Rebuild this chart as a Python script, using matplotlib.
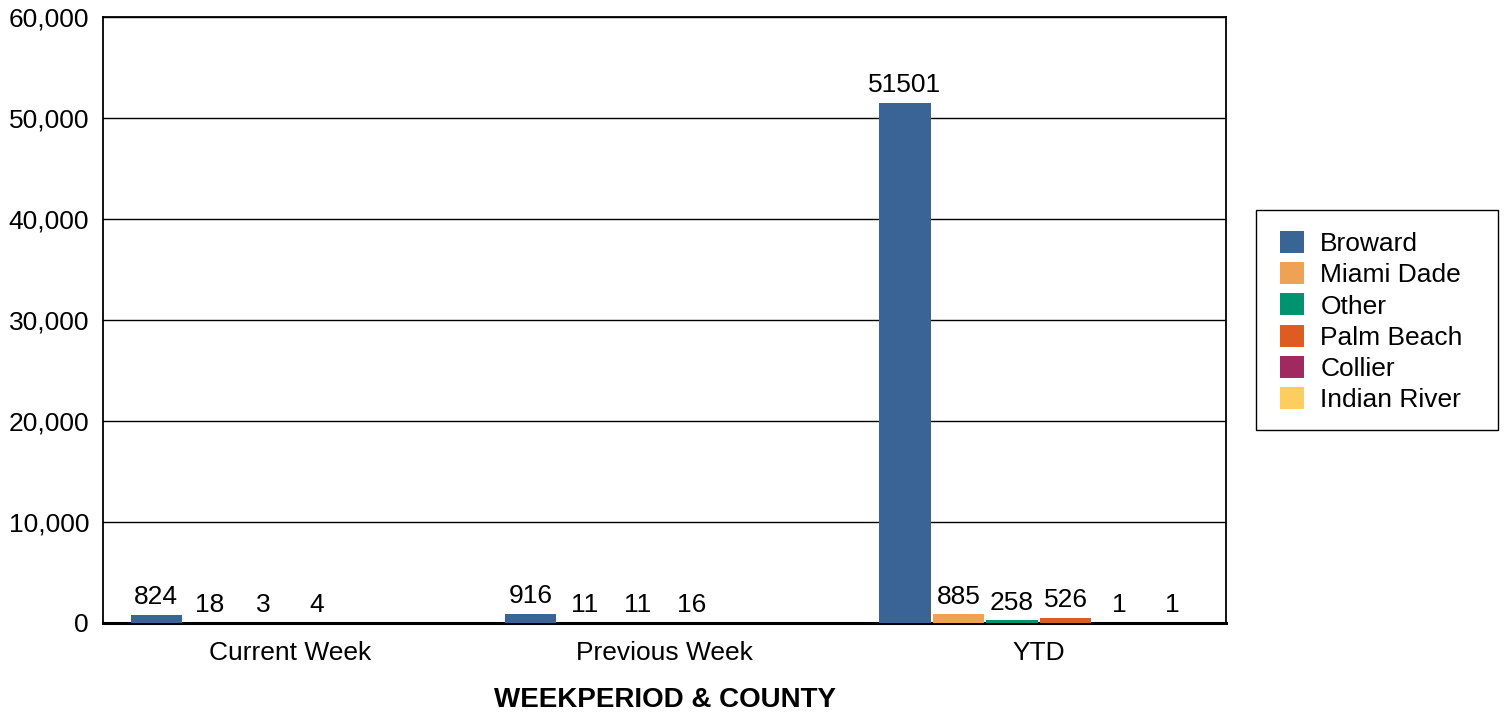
import matplotlib
matplotlib.use("Agg")
import matplotlib.pyplot as plt
import numpy as np
from matplotlib.ticker import FuncFormatter
from matplotlib.patches import Rectangle

plt.rcParams['font.family'] = ['Liberation Sans', 'DejaVu Sans']

categories = ["Current Week", "Previous Week", "YTD"]
series_names = ["Broward", "Miami Dade", "Other", "Palm Beach", "Collier", "Indian River"]
broward = [824, 916, 51501]
miami_dade = [18, 11, 885]
other = [3, 11, 258]
palm_beach = [4, 16, 526]
collier = [None, None, 1]
indian_river = [None, None, 1]
colors = ["#3A6496", "#EFA253", "#00936F", "#DE5B22", "#A0295F", "#FDCD5F"]

series = [broward, miami_dade, other, palm_beach, collier, indian_river]

FS = 19
W, H = 1504, 713

fig = plt.figure(figsize=(15.04, 7.13), dpi=100)
ax = fig.add_axes([103/W, 1-623/H, (1226-103)/W, (623-17)/H])

x = np.arange(len(categories))
slot = 0.143
bw = 0.137
n = len(series)
for i, (name, vals, c) in enumerate(zip(series_names, series, colors)):
    pos = x + (i - (n-1)/2) * slot
    v = np.array([np.nan if a is None else a for a in vals], dtype=float)
    ax.bar(pos, v, width=bw, color=c, label=name, zorder=3)
    for p, val in zip(pos, vals):
        if val is None:
            continue
        ax.annotate(f"{val}", (p, val), xytext=(0, 4), textcoords="offset points",
                    ha="center", va="bottom", fontsize=FS, zorder=4)

ax.set_xlim(-0.5, 2.5)
ax.set_ylim(0, 60000)
ax.set_yticks(np.arange(0, 60001, 10000))
ax.yaxis.set_major_formatter(FuncFormatter(lambda v, p: f"{int(v):,}"))
ax.set_xticks(x)
ax.set_xticklabels(categories)
ax.tick_params(axis='y', length=0, labelsize=FS, pad=10)
ax.tick_params(axis='x', length=0, labelsize=FS, pad=13)
ax.yaxis.grid(True, color="black", linewidth=1, zorder=0)
for s in ax.spines.values():
    s.set_color("black")
    s.set_linewidth(1.3)
ax.spines['bottom'].set_linewidth(2.2)
ax.set_xlabel("WEEKPERIOD & COUNTY", fontsize=20, fontweight="bold", labelpad=15.5)

# legend frame
fig.patches.append(Rectangle((1256/W, 1-430/H), (1498-1256)/W, (430-210)/H,
                             transform=fig.transFigure, fill=False,
                             edgecolor="black", linewidth=1.0))
leg = fig.legend(loc="upper left", bbox_to_anchor=(1280/W, 1-231/H), fontsize=FS,
                 frameon=False, handlelength=0.91, handleheight=0.91,
                 borderpad=0, labelspacing=0.23, handletextpad=0.62,
                 borderaxespad=0)

fig.savefig("out.png", dpi=100)
